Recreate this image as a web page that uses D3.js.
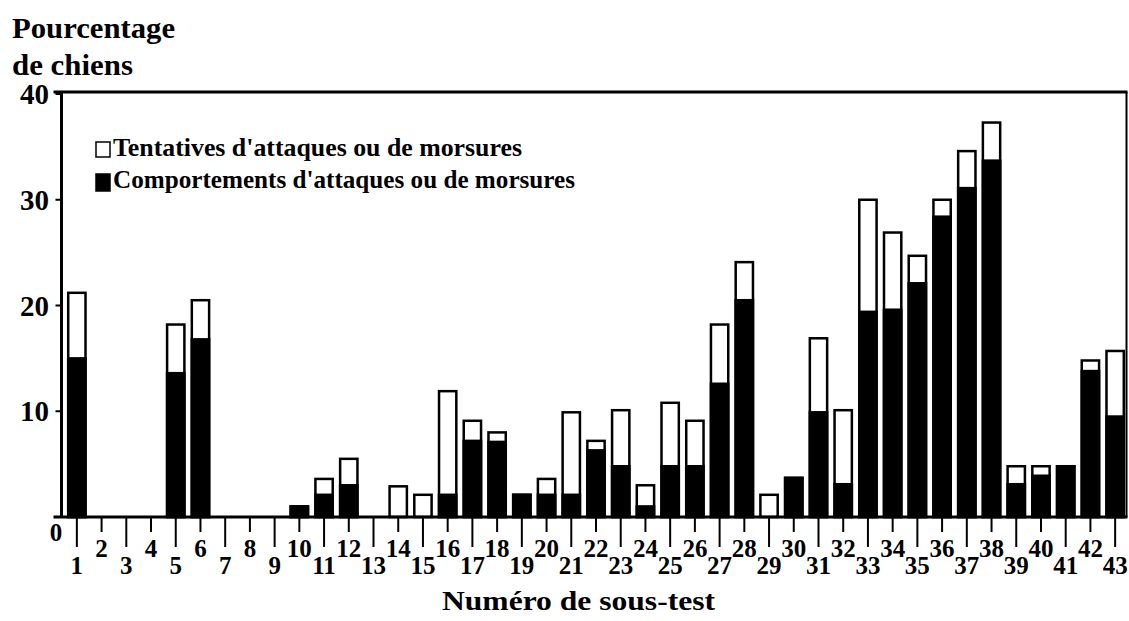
<!DOCTYPE html>
<head>
    <meta charset="utf-8">
<script src="https://d3js.org/d3.v7.min.js"></script>
</head>
<style>
  body { margin: 0; background: #fff; }
  text { font-family: "Liberation Serif", serif; font-weight: bold; fill: #000; }
</style>
<body>
<svg id="chart" width="1129" height="621"></svg>
<script>
// sub-test numbers
const sousTests = d3.range(1, 44);
// black part: comportements d'attaques ou de morsures (%)
const comportements = [15.0,0,0,0,13.6,16.8,0,0,0,1.0,
                       2.1,3.0,0,0,0,2.1,7.2,7.1,2.1,2.1,
                       2.1,6.3,4.8,1.0,4.8,4.8,12.6,20.5,0,3.7,
                       9.9,3.1,19.4,19.6,22.1,28.4,31.1,33.7,3.1,3.9,
                       4.8,13.8,9.5];
// white part on top: tentatives d'attaques ou de morsures (%)
const tentatives = [6.2,0,0,0,4.6,3.7,0,0,0,0,
                    1.5,2.5,0,2.9,2.1,9.8,1.9,0.9,0,1.5,
                    7.8,0.9,5.3,2.0,6.0,4.3,5.6,3.6,2.1,0,
                    7.0,7.0,10.6,7.3,2.6,1.6,3.5,3.6,1.7,0.9,
                    0,1.0,6.2];
const yTicks = [10, 20, 30, 40];

const svg = d3.select("#chart");
const plotL = 61.5, plotR = 1126.5, plotT = 92, plotB = 517;

const data = sousTests.map((n, i) => ({n: n, comportements: comportements[i], tentatives: tentatives[i]}));
const stacked = d3.stack().keys(["comportements", "tentatives"])(data);

const x = d3.scaleBand()
    .domain(sousTests)
    .range([64.5, 1127.5])
    .paddingInner(0.3)
    .paddingOuter(0.15);

const y = d3.scaleLinear()
    .domain([0, 40])
    .range([plotB, plotT + 2]);

// bars: full outlined white bar first, black part over it
const bars = svg.append("g");
bars.selectAll("rect.tot")
    .data(stacked[1].filter(d => d[1] > 0))
    .join("rect")
      .attr("class", "tot")
      .attr("x", d => x(d.data.n))
      .attr("width", x.bandwidth())
      .attr("y", d => y(d[1]))
      .attr("height", d => y(0) - y(d[1]))
      .attr("fill", "#fff")
      .attr("stroke", "#000")
      .attr("stroke-width", 2.5);

bars.selectAll("rect.blk")
    .data(stacked[0].filter(d => d[1] > 0))
    .join("rect")
      .attr("class", "blk")
      .attr("x", d => x(d.data.n))
      .attr("width", x.bandwidth())
      .attr("y", d => y(d[1]))
      .attr("height", d => y(0) - y(d[1]))
      .attr("fill", "#000")
      .attr("stroke", "#000")
      .attr("stroke-width", 2.5);

// frame
svg.append("line").attr("x1", plotL).attr("x2", plotL).attr("y1", plotT).attr("y2", plotB)
    .attr("stroke", "#000").attr("stroke-width", 3);
svg.append("line").attr("x1", plotL - 8).attr("x2", plotR + 1).attr("y1", plotT).attr("y2", plotT)
    .attr("stroke", "#000").attr("stroke-width", 3);
svg.append("line").attr("x1", plotR).attr("x2", plotR).attr("y1", plotT).attr("y2", plotB)
    .attr("stroke", "#000").attr("stroke-width", 2);
svg.append("line").attr("x1", plotL - 8).attr("x2", plotR + 1).attr("y1", plotB).attr("y2", plotB)
    .attr("stroke", "#000").attr("stroke-width", 3);

// y axis ticks and labels
const yAxis = svg.append("g");
yAxis.selectAll("line")
    .data(yTicks)
    .join("line")
      .attr("x1", plotL - 6).attr("x2", plotL)
      .attr("y1", d => y(d)).attr("y2", d => y(d))
      .attr("stroke", "#000").attr("stroke-width", 2);
yAxis.selectAll("text")
    .data(yTicks)
    .join("text")
      .attr("x", 49)
      .attr("y", d => y(d) + 10)
      .attr("text-anchor", "end")
      .style("font-size", "29px")
      .text(d => d);
svg.append("text")
    .attr("x", 56).attr("y", 541)
    .attr("text-anchor", "middle")
    .style("font-size", "25px")
    .text("0");

// x axis ticks: odd long / even short, labels staggered
const xAxis = svg.append("g");
const cx = n => x(n) + x.bandwidth() / 2;
xAxis.selectAll("line")
    .data(sousTests)
    .join("line")
      .attr("x1", cx).attr("x2", cx)
      .attr("y1", plotB)
      .attr("y2", d => d % 2 ? plotB + 30 : plotB + 15)
      .attr("stroke", "#000").attr("stroke-width", 2);
xAxis.selectAll("text")
    .data(sousTests)
    .join("text")
      .attr("x", cx)
      .attr("y", d => d % 2 ? 574 : 557)
      .attr("text-anchor", "middle")
      .style("font-size", "25px")
      .text(d => d);

// axis titles
svg.append("text").attr("x", 12).attr("y", 38)
    .style("font-size", "30px")
    .attr("textLength", 163).attr("lengthAdjust", "spacingAndGlyphs")
    .text("Pourcentage");
svg.append("text").attr("x", 12).attr("y", 75)
    .style("font-size", "30px")
    .attr("textLength", 121).attr("lengthAdjust", "spacingAndGlyphs")
    .text("de chiens");
svg.append("text").attr("x", 442).attr("y", 610)
    .style("font-size", "28px")
    .attr("textLength", 273).attr("lengthAdjust", "spacingAndGlyphs")
    .text("Numéro de sous-test");

// legend
const legend = [
  {label: "Tentatives d'attaques ou de morsures", fill: "#fff", w: 409},
  {label: "Comportements d'attaques ou de morsures", fill: "#000", w: 462}
];
const lg = svg.append("g").selectAll("g")
    .data(legend)
    .join("g")
      .attr("transform", (d, i) => `translate(96,${142 + i * 32})`);
lg.append("rect")
    .attr("width", 14).attr("height", d => d.fill === "#000" ? 17 : 15)
    .attr("fill", d => d.fill)
    .attr("stroke", "#000").attr("stroke-width", 1.5);
lg.append("text")
    .attr("x", 17).attr("y", 14)
    .style("font-size", "25px")
    .attr("textLength", d => d.w).attr("lengthAdjust", "spacingAndGlyphs")
    .text(d => d.label);
</script>
</body>
